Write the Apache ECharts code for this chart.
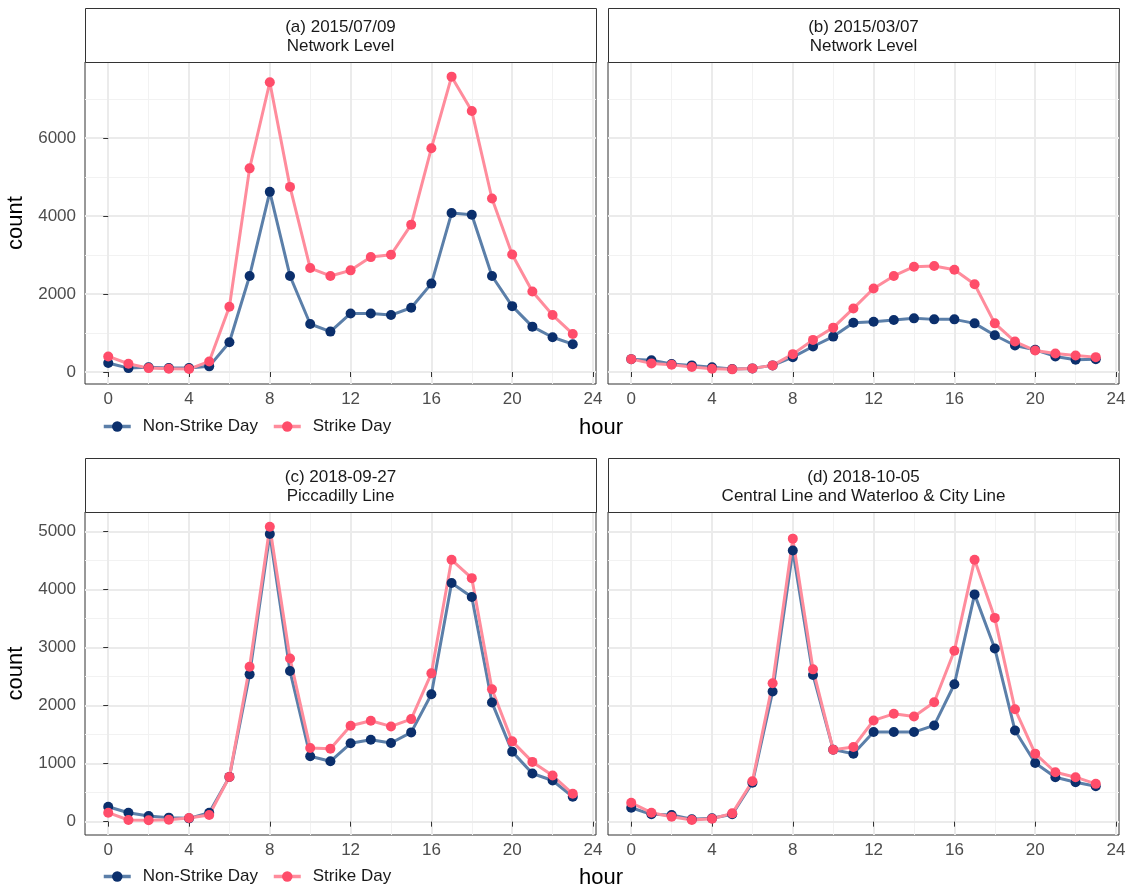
<!DOCTYPE html>
<html>
<head>
<meta charset="utf-8">
<script src="https://cdn.jsdelivr.net/npm/echarts@6/dist/echarts.min.js"></script>
<style>
html,body{margin:0;padding:0;background:#fff;}
#chart{width:1130px;height:892px;}
</style>
</head>
<body>
<div id="chart"></div>
<script>
// ---------------- data ----------------
const hours = [0,1,2,3,4,5,6,7,8,9,10,11,12,13,14,15,16,17,18,19,20,21,22,23];

const nonStrikeA = [230,100,120,100,100,145,765,2465,4624,2465,1232,1037,1504,1504,1462,1649,2269,4080,4037,2465,1691,1164,892,714];
const strikeA    = [400,212,100,85,76,272,1674,5227,7437,4751,2669,2465,2609,2949,3009,3782,5745,7581,6698,4454,3017,2065,1462,977];

const nonStrikeB = [330,300,205,170,120,76,93,170,382,655,909,1266,1292,1334,1377,1351,1351,1249,943,680,569,400,314,330];
const strikeB    = [330,221,187,127,85,68,93,170,459,824,1139,1632,2142,2465,2703,2720,2626,2252,1249,782,552,476,425,382];

const nonStrikeC = [257,154,97,69,57,154,771,2537,4954,2594,1126,1040,1349,1411,1354,1537,2194,4109,3869,2051,1206,829,709,429];
const strikeC    = [154,29,23,34,63,114,771,2669,5080,2811,1269,1257,1651,1737,1640,1766,2554,4509,4194,2280,1383,1029,794,480];

const nonStrikeD = [240,126,114,40,57,126,669,2240,4669,2526,1240,1171,1543,1543,1543,1657,2366,3914,2983,1571,1011,766,680,611];
const strikeD    = [326,154,86,29,51,143,697,2383,4874,2623,1240,1286,1743,1857,1811,2057,2943,4509,3509,1937,1171,851,766,651];

const seriesNames = ['Non-Strike Day', 'Strike Day'];
const panelTitles = [
  ['(a) 2015/07/09', 'Network Level'],
  ['(b) 2015/03/07', 'Network Level'],
  ['(c) 2018-09-27', 'Piccadilly Line'],
  ['(d) 2018-10-05', 'Central Line and Waterloo & City Line']
];

const xTicks = [0,4,8,12,16,20,24];
const xMinor = [2,6,10,14,18,22];
const yTicksTop = [0,2000,4000,6000];
const yMinorTop = [1000,3000,5000,7000];
const yTicksBottom = [0,1000,2000,3000,4000,5000];
const yMinorBottom = [500,1500,2500,3500,4500];

// ---------------- layout ----------------
const FONT = "'Liberation Sans', Arial, sans-serif";
const colNS_line = '#5b7fa9', colNS_pt = '#0b2f6c';
const colS_line = '#ff8c9c', colS_pt = '#ff4d6a';

const panels = [
  {ns: nonStrikeA, s: strikeA, left: 85, top: 62, h: 322, row: 0, first: true},
  {ns: nonStrikeB, s: strikeB, left: 608, top: 62, h: 322, row: 0, first: false},
  {ns: nonStrikeC, s: strikeC, left: 85, top: 512, h: 323, row: 1, first: true},
  {ns: nonStrikeD, s: strikeD, left: 608, top: 512, h: 323, row: 1, first: false}
];
const PW = 511, STRIP = 54;

// ggplot-like 5% expansion of the shared y range per row
function rowRange(arrs) {
  let lo = Infinity, hi = -Infinity;
  arrs.forEach(a => a.forEach(v => { lo = Math.min(lo, v); hi = Math.max(hi, v); }));
  const pad = (hi - lo) * 0.05;
  return [lo - pad, hi + pad];
}
const rangeTop = rowRange([nonStrikeA, strikeA, nonStrikeB, strikeB]);
const rangeBottom = rowRange([nonStrikeC, strikeC, nonStrikeD, strikeD]);
const xMin = hours[0] - 0.05 * (hours[hours.length-1] - hours[0]);
const xMax = hours[hours.length-1] + 0.05 * (hours[hours.length-1] - hours[0]);

const grid = [], xAxis = [], yAxis = [], series = [], graphic = [];
const majorLine = {color: '#ebebeb', width: 2};
const minorLine = {color: '#f2f2f2', width: 1};
const plain = v => String(v);

panels.forEach((p, i) => {
  grid.push({left: p.left, top: p.top, width: PW, height: p.h, show: true,
             borderColor: '#333333', borderWidth: 1, backgroundColor: 'transparent', containLabel: false});
  const yr = p.row === 0 ? rangeTop : rangeBottom;
  const yMajor = p.row === 0 ? yTicksTop : yTicksBottom;
  const yMin2 = p.row === 0 ? yMinorTop : yMinorBottom;
  // minor x axis (grid lines only)
  xAxis.push({gridIndex: i, type: 'value', min: xMin, max: xMax, position: 'top',
    axisLine: {show: false}, axisTick: {show: false, customValues: xMinor},
    axisLabel: {show: false, customValues: xMinor},
    splitLine: {show: true, lineStyle: minorLine}, z: 0});
  // major x axis
  xAxis.push({gridIndex: i, type: 'value', min: xMin, max: xMax, position: 'bottom',
    axisLine: {show: false},
    axisTick: {show: true, customValues: xTicks, length: 5, lineStyle: {color: '#333333', width: 1}},
    axisLabel: {show: true, customValues: xTicks, formatter: plain, color: '#4d4d4d', fontSize: 17, fontFamily: FONT, margin: 7},
    splitLine: {show: true, lineStyle: majorLine}, z: 1});
  // minor y axis
  yAxis.push({gridIndex: i, type: 'value', min: yr[0], max: yr[1], position: 'right',
    axisLine: {show: false}, axisTick: {show: false, customValues: yMin2},
    axisLabel: {show: false, customValues: yMin2},
    splitLine: {show: true, lineStyle: minorLine}, z: 0});
  // major y axis
  yAxis.push({gridIndex: i, type: 'value', min: yr[0], max: yr[1], position: 'left',
    axisLine: {show: false},
    axisTick: {show: p.first, customValues: yMajor, length: 5, lineStyle: {color: '#333333', width: 1}},
    axisLabel: {show: p.first, customValues: yMajor, formatter: plain, color: '#4d4d4d', fontSize: 17, fontFamily: FONT, margin: 9},
    splitLine: {show: true, lineStyle: majorLine},
    name: p.first ? 'count' : '', nameLocation: 'middle', nameGap: 58,
    nameTextStyle: {fontSize: 22, color: '#000', fontFamily: FONT}, z: 1});

  const xi = i * 2 + 1, yi = i * 2 + 1;
  const toPts = arr => hours.map((h, k) => [h, arr[k]]);
  series.push({name: seriesNames[0], type: 'line', xAxisIndex: xi, yAxisIndex: yi,
    data: toPts(p.ns), symbol: 'none', z: 3, silent: true,
    lineStyle: {color: colNS_line, width: 3}, itemStyle: {color: colNS_pt}});
  series.push({name: seriesNames[1], type: 'line', xAxisIndex: xi, yAxisIndex: yi,
    data: toPts(p.s), symbol: 'none', z: 4, silent: true,
    lineStyle: {color: colS_line, width: 3}, itemStyle: {color: colS_pt}});
  series.push({name: seriesNames[0] + ' pts', type: 'scatter', xAxisIndex: xi, yAxisIndex: yi,
    data: toPts(p.ns), symbolSize: 10, z: 5, silent: true, itemStyle: {color: colNS_pt, opacity: 1}});
  series.push({name: seriesNames[1] + ' pts', type: 'scatter', xAxisIndex: xi, yAxisIndex: yi,
    data: toPts(p.s), symbolSize: 10, z: 6, silent: true, itemStyle: {color: colS_pt, opacity: 1}});

  // strip
  graphic.push({type: 'rect', left: p.left, top: p.top - STRIP, z: 10,
    shape: {width: PW, height: STRIP}, style: {fill: '#ffffff', stroke: '#333333', lineWidth: 1}});
  graphic.push({type: 'text', x: p.left + PW / 2, y: p.top - STRIP + 19, z: 11,
    style: {text: panelTitles[i][0], fill: '#1a1a1a', font: '17px ' + FONT, align: 'center', verticalAlign: 'middle'}});
  graphic.push({type: 'text', x: p.left + PW / 2, y: p.top - STRIP + 38, z: 11,
    style: {text: panelTitles[i][1], fill: '#1a1a1a', font: '17px ' + FONT, align: 'center', verticalAlign: 'middle'}});
});

// "hour" axis titles
[428, 878].forEach(y => {
  graphic.push({type: 'text', x: 601, y: y, z: 11,
    style: {text: 'hour', fill: '#000', font: '22px ' + FONT, align: 'center', verticalAlign: 'middle'}});
});

const legendCommon = {
  data: seriesNames, orient: 'horizontal', left: 97, itemWidth: 27, itemHeight: 13, itemGap: 14,
  lineStyle: {width: 3.5},
  textStyle: {fontSize: 17, color: '#1a1a1a', fontFamily: FONT, padding: [0, 0, 0, 7]},
  selectedMode: false
};
const legend = [
  Object.assign({}, legendCommon, {top: 413}),
  Object.assign({}, legendCommon, {top: 863})
];

const chart = echarts.init(document.getElementById('chart'), null, {renderer: 'canvas'});
chart.setOption({
  backgroundColor: '#ffffff',
  animation: false,
  textStyle: {fontFamily: FONT},
  grid, xAxis, yAxis, series, legend, graphic
});
</script>
</body>
</html>
